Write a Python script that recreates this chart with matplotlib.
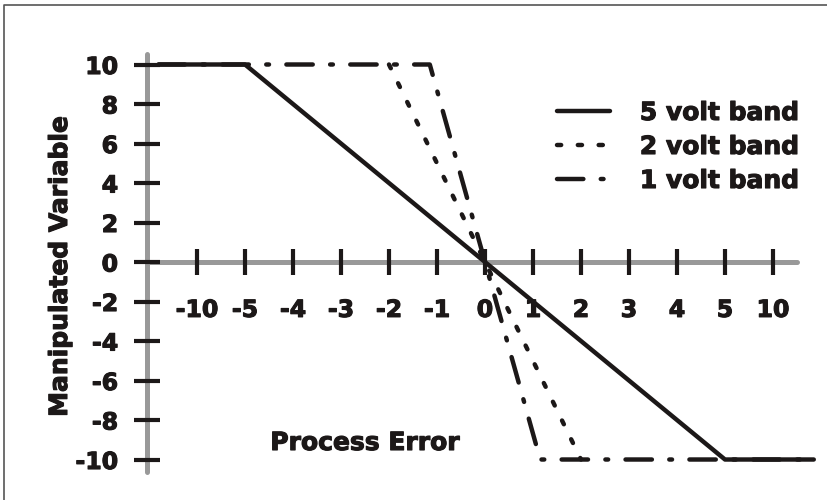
import matplotlib
matplotlib.use("Agg")
import matplotlib.pyplot as plt
import matplotlib.patheffects as pe
from matplotlib.lines import Line2D

# ---- data (x in tick-position units: tick k is drawn at position k) ----
x_tick_labels = ['-10', '-5', '-4', '-3', '-2', '-1', '0', '1', '2', '3', '4', '5', '10']
x_tick_pos = list(range(-6, 7))
y_ticks = [10, 8, 6, 4, 2, 0, -2, -4, -6, -8, -10]

band5_x = [-6.8, -5, 5, 6.85]
band5_y = [10, 10, -10, -10]
band2_x = [-2, 2]
band2_y = [10, -10]
band1_x = [-6.8, -1.15, 1.15, 6.85]
band1_y = [10, 10, -10, -10]

series_labels = ['5 volt band', '2 volt band', '1 volt band']

plt.rcParams['lines.scale_dashes'] = False
plt.rcParams['font.family'] = ['DejaVu Sans']
plt.rcParams['font.weight'] = 'bold'

INK = '#1c1818'
GRAY = '#999999'
heavy = [pe.withStroke(linewidth=0.8, foreground=INK)]

fig = plt.figure(figsize=(8.28, 5.0), dpi=100)
ax = fig.add_axes([0, 0, 1, 1])
ax.set_xlim(-10.104, 7.146)
ax.set_ylim(-12.05, 13.266)
ax.patch.set_alpha(0)

for s in ['top', 'right']:
    ax.spines[s].set_visible(False)
ax.spines['left'].set_position(('data', -7.04))
ax.spines['bottom'].set_position(('data', 0))
ax.spines['left'].set_bounds(-10.63, 10.53)
ax.spines['bottom'].set_bounds(-7.04, 6.5)
for s in ['left', 'bottom']:
    ax.spines[s].set_color(GRAY)
    ax.spines[s].set_linewidth(3.6)
    ax.spines[s].set_capstyle('round')
    ax.spines[s].set_zorder(1)

ax.set_xticks(x_tick_pos, x_tick_labels)
ax.set_yticks(y_ticks, [str(v) for v in y_ticks])
ax.tick_params(direction='inout', length=18.7, width=3, color=INK,
               labelsize=17, labelcolor=INK)
ax.tick_params(axis='x', pad=16.5)
ax.tick_params(axis='y', pad=11.5)
for t in ax.get_xticklabels() + ax.get_yticklabels():
    t.set_fontweight('bold')
    t.set_path_effects(heavy)

lw = 3.2
l5, = ax.plot(band5_x, band5_y, color=INK, lw=lw, solid_capstyle='round',
              solid_joinstyle='round', zorder=3)
l2, = ax.plot(band2_x, band2_y, color=INK, lw=lw, linestyle=(0, (3, 12)),
              dash_capstyle='round', zorder=3)
l1, = ax.plot(band1_x, band1_y, color=INK, lw=lw, linestyle=(0, (19, 12.5, 2, 12.5)),
              dash_capstyle='round', dash_joinstyle='round', zorder=3)

leg = ax.legend([l5, l2, l1], series_labels, loc='center left',
                bbox_to_anchor=(0.658, 0.706), frameon=False,
                prop={'size': 18, 'weight': 'bold'}, handlelength=2.1,
                handletextpad=1.2, labelspacing=0.40, borderpad=0)
for t in leg.get_texts():
    t.set_color(INK)
    t.set_path_effects(heavy)

ax.text(365 / 828, 1 - 443 / 500, 'Process Error', transform=ax.transAxes,
        ha='center', va='center', fontsize=18, fontweight='bold', color=INK,
        path_effects=heavy)
ax.text(60 / 828, 1 - 266 / 500, 'Manipulated Variable', transform=ax.transAxes,
        ha='center', va='center', rotation=90, fontsize=18, fontweight='bold', color=INK,
        path_effects=heavy)

# outer frame (left and top edges only)
fig.add_artist(Line2D([4 / 828, 4 / 828, 1], [0, 1 - 5 / 500, 1 - 5 / 500],
                      transform=fig.transFigure, color='#555555', lw=1.2))

fig.savefig('out.png', dpi=100)
